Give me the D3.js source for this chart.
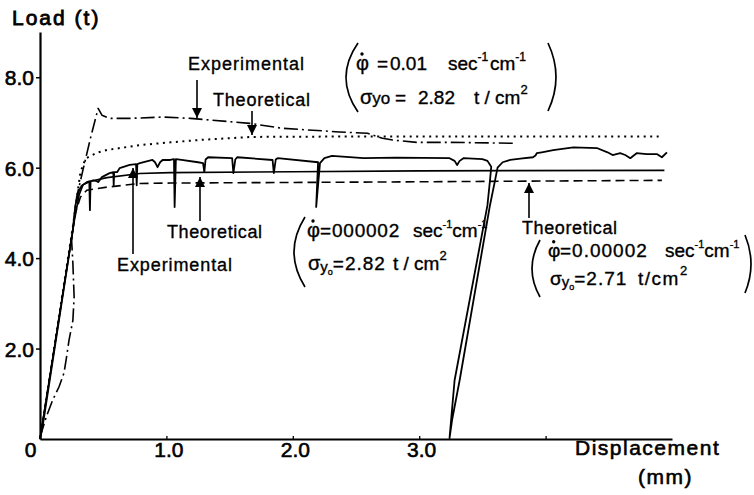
<!DOCTYPE html>
<html><head><meta charset="utf-8">
<script src="https://cdn.jsdelivr.net/npm/d3@7"></script>
<style>
body{margin:0;background:#fff}
svg{display:block}
text{font-family:"Liberation Sans",Arial,sans-serif;fill:#000}
</style>
</head><body>
<svg id="c" width="754" height="495"></svg>
<script>
// ---------- data ----------
const xTicks = [0, 1, 2, 3, 4];
const xTickLabels = ["0", "1.0", "2.0", "3.0", ""];
const yTicks = [2, 4, 6, 8];
const yTickLabels = ["2.0", "4.0", "6.0", "8.0"];

// Experimental, phi = 0.00002 (solid, wavy, with unload/reload loop)
const expSlow = [
  [0,0],[0.01,0.13],[0.02,0.27],[0.26,4.62],[0.28,5.17],[0.31,5.5],[0.33,5.6],[0.37,5.68],
  [0.39,5.70],[0.395,5.06],[0.40,5.70],[0.42,5.72],[0.45,5.70],[0.46,5.68],[0.49,5.79],[0.55,5.88],
  [0.58,5.90],[0.583,5.61],[0.587,5.90],[0.61,5.90],[0.63,5.99],[0.71,6.06],[0.76,6.08],[0.765,5.61],
  [0.77,6.08],[0.79,6.10],[0.89,6.17],[0.91,6.12],[0.93,6.01],[0.95,6.12],[0.97,6.17],[1.03,6.17],
  [1.06,6.19],[1.065,5.13],[1.075,6.19],[1.12,6.17],[1.25,6.12],[1.29,6.10],[1.30,5.90],[1.31,6.18],
  [1.33,6.23],[1.52,6.21],[1.53,5.88],[1.545,6.18],[1.56,6.23],[1.84,6.17],[1.85,5.88],[1.865,6.18],
  [1.88,6.21],[2.20,6.12],[2.185,5.13],[2.215,6.10],[2.25,6.21],[2.31,6.26],[2.56,6.21],[2.82,6.22],
  [3.24,6.21],[3.28,6.15],[3.30,6.06],[3.32,6.15],[3.35,6.21],[3.50,6.19],[3.54,6.15],[3.57,6.02],
  [3.56,5.72],[3.54,5.17],[3.28,1.30],[3.24,0.02],[3.26,0.42],[3.32,1.30],[3.56,5.17],[3.60,5.72],
  [3.62,6.00],[3.66,6.12],[3.72,6.17],[3.80,6.20],[3.90,6.23],[3.92,6.27],[3.93,6.32],[3.97,6.34],
  [4.06,6.39],[4.22,6.45],[4.41,6.43],[4.49,6.34],[4.53,6.28],[4.59,6.32],[4.63,6.28],[4.67,6.21],
  [4.72,6.32],[4.80,6.30],[4.88,6.30],[4.92,6.23],[4.96,6.34]
];
// Experimental, phi = 0.01 (dash-dot)
const expFast = [
  [0,0.04],[0.05,0.49],[0.10,0.86],[0.15,1.15],[0.19,1.46],[0.21,1.81],[0.23,2.19],[0.26,2.62],
  [0.27,3.14],[0.26,3.89],[0.25,4.40],[0.29,5.35],[0.34,5.95],[0.40,6.66],[0.46,7.31],[0.49,7.16],
  [0.55,7.09],[0.71,7.09],[0.97,7.12],[1.19,7.09],[1.66,6.98],[1.92,6.87],[2.37,6.79],[2.59,6.76],
  [2.71,6.65],[2.79,6.61],[2.98,6.56],[3.24,6.56],[3.74,6.54]
];
// Theoretical, phi = 0.01 (dotted)
const theoFast = [
  [0,0],[0.26,4.7],[0.32,5.9],[0.36,6.2],[0.45,6.33],[0.53,6.39],[0.79,6.50],[1.03,6.56],
  [1.30,6.62],[1.68,6.68],[2.50,6.69],[4.92,6.69]
];
// Theoretical, phi = 0.00002, sigma_yo = 2.82 (solid smooth)
const theoSlow282 = [
  [0,0],[0.27,4.8],[0.31,5.4],[0.34,5.62],[0.40,5.70],[0.53,5.78],[0.79,5.87],[1.03,5.89],
  [2.0,5.91],[3.0,5.93],[4.94,5.94]
];
// Theoretical, phi = 0.00002, sigma_yo = 2.71 (dashed)
const theoSlow271 = [
  [0,0],[0.28,5.0],[0.32,5.35],[0.37,5.50],[0.53,5.57],[0.79,5.65],[1.03,5.66],[2.5,5.68],[4.92,5.72]
];

// ---------- chart ----------
const svg = d3.select("#c");
const x = d3.scaleLinear().domain([0, 5]).range([40, 672]);
const y = d3.scaleLinear().domain([0, 9]).range([439, 32]);

const line = d3.line().x(d => x(d[0])).y(d => y(d[1]));

function drawSeries(data, dash, width) {
  svg.append("path").datum(data).attr("d", line)
    .attr("fill", "none").attr("stroke", "#000")
    .attr("stroke-width", width).attr("stroke-linejoin", "round")
    .attr("stroke-dasharray", dash);
}
drawSeries(theoSlow271, "9,5", 1.6);
drawSeries(theoFast, "2,4.5", 2);
drawSeries(theoSlow282, null, 1.6);
drawSeries(expFast, "14,4,2,4", 1.6);
drawSeries(expSlow, null, 1.8);

// axes
const axisFont = "Liberation Sans, Arial, sans-serif";
const yAxis = svg.append("g").attr("transform", `translate(${x(0)},0)`)
  .call(d3.axisLeft(y).tickValues(yTicks).tickSizeInner(4).tickSizeOuter(0).tickPadding(2)
    .tickFormat((d, i) => yTickLabels[i]));
yAxis.select(".domain").attr("stroke-width", 2.2);
yAxis.selectAll(".tick line").attr("stroke-width", 1.5);
yAxis.selectAll("text").attr("font-size", 21).attr("font-family", axisFont)
  .attr("dy", "0.36em").attr("stroke", "#000").attr("stroke-width", 0.6);

const xAxis = svg.append("g").attr("transform", `translate(0,${y(0)})`)
  .call(d3.axisBottom(x).tickValues(xTicks).tickSizeInner(-3).tickSizeOuter(0).tickPadding(3)
    .tickFormat((d, i) => xTickLabels[i]));
xAxis.select(".domain").attr("stroke-width", 2);
xAxis.selectAll(".tick line").attr("stroke-width", 1.3);
xAxis.selectAll("text").attr("font-size", 21).attr("font-family", axisFont)
  .attr("dx", d => d === 0 ? -10 : 2).attr("stroke", "#000").attr("stroke-width", 0.6);

// ---------- text helpers ----------
function t(px, py, str, size, opts = {}) {
  const el = svg.append("text").attr("x", px).attr("y", py).attr("font-size", size).text(str)
    .attr("stroke", "#000").attr("stroke-width", opts.sw != null ? opts.sw : 0.35);
  if (opts.ls != null) el.attr("letter-spacing", opts.ls);
  return el;
}
// rich line: parts = [{s, size, shift (px, negative = up), x (optional absolute), ls}]
function rich(px, py, parts, sw = 0.35) {
  const el = svg.append("text").attr("x", px).attr("y", py)
    .attr("stroke", "#000").attr("stroke-width", sw);
  let cur = 0;
  parts.forEach(p => {
    const ts = el.append("tspan").attr("font-size", p.size).text(p.s);
    const sh = p.shift || 0;
    if (p.x != null) ts.attr("x", p.x);
    if (sh !== cur) { ts.attr("dy", sh - cur); cur = sh; }
    if (p.ls != null) ts.attr("letter-spacing", p.ls);
    if (p.dx != null) ts.attr("dx", p.dx);
  });
  return el;
}
function phi(px, py, size) {
  t(px, py, "φ", size);
  svg.append("circle").attr("cx", px + size * 0.3).attr("cy", py - size * 0.8).attr("r", 1.7).attr("fill", "#000");
}
function bracket(x0, y0, xm, y1) {
  svg.append("path").attr("d", `M${x0},${y0} Q${2 * xm - x0},${(y0 + y1) / 2} ${x0},${y1}`)
    .attr("fill", "none").attr("stroke", "#000").attr("stroke-width", 1.7);
}
const defs = svg.append("defs");
defs.append("marker").attr("id", "ah").attr("viewBox", "0 0 10 10").attr("refX", 10).attr("refY", 5)
  .attr("markerWidth", 10).attr("markerHeight", 10).attr("markerUnits", "userSpaceOnUse")
  .attr("orient", "auto").append("path").attr("d", "M0,0 L10,5 L0,10 Z").attr("fill", "#000");
function arrow(px, yFrom, yTo) {
  svg.append("line").attr("x1", px).attr("x2", px).attr("y1", yFrom).attr("y2", yTo)
    .attr("stroke", "#000").attr("stroke-width", 1.6).attr("marker-end", "url(#ah)");
}

// axis titles
t(12, 25, "Load (t)", 21, { ls: 2, sw: 0.8 });
t(575, 455, "Displacement", 21, { ls: 1.5, sw: 0.6 });
t(638, 484, "(mm)", 21, { ls: 1.5, sw: 0.6 });

// top annotations (phi = 0.01)
t(188, 70, "Experimental", 18, { ls: 1 });
arrow(197, 80, 118);
t(213, 106, "Theoretical", 18, { ls: 0.8 });
arrow(252, 111, 135);
bracket(358, 43, 346, 112);
bracket(548, 43, 556, 111);
phi(356, 70, 20);
rich(377, 70, [
  { s: "=", size: 19 }, { s: "0.01", size: 19, x: 390 },
  { s: "sec", size: 19, x: 448 }, { s: "-1", size: 12, shift: -9 },
  { s: "cm", size: 19, shift: 0, x: 490 }, { s: "-1", size: 12, shift: -9 }
]);
rich(360, 104, [
  { s: "σ", size: 20 }, { s: "yo", size: 17 }, { s: "=", size: 19, x: 395 },
  { s: "2.82", size: 19, x: 418 }, { s: "t / cm", size: 19, x: 474 },
  { s: "2", size: 13, shift: -10 }
]);

// lower-left labels
t(167, 238, "Theoretical", 18, { ls: 0.6 });
arrow(200, 221, 177);
t(117, 271, "Experimental", 18, { ls: 0.9 });
arrow(133, 254, 168);

// middle annotation (phi = 0.00002, sigma 2.82)
bracket(305, 217, 294, 287);
phi(307, 237, 20);
rich(320, 237, [
  { s: "=000002", size: 19, ls: 0.8 }, { s: "sec", size: 19, x: 413 },
  { s: "-1", size: 11, shift: -9 }, { s: "cm", size: 19, shift: 0 },
  { s: "-1", size: 11, shift: -9 }
]);
rich(308, 270, [
  { s: "σ", size: 20 }, { s: "y", size: 15, shift: 2 }, { s: "o", size: 9, shift: 5 },
  { s: "=2.82", size: 19, shift: 0, ls: 1 }, { s: "t / cm", size: 19, x: 393 },
  { s: "2", size: 13, shift: -10 }
]);

// right annotation (theoretical sigma 2.71)
arrow(529, 218, 183);
t(522, 234, "Theoretical", 18, { ls: 0.6 });
bracket(540, 240, 532, 297);
bracket(745, 235, 751, 293);
phi(548, 257, 19);
rich(560, 257, [
  { s: "=0.00002", size: 19, ls: 1 }, { s: "sec", size: 19, x: 665 },
  { s: "-1", size: 11, shift: -9 }, { s: "cm", size: 19, shift: 0 },
  { s: "-1", size: 11, shift: -9 }
]);
rich(550, 285, [
  { s: "σ", size: 19 }, { s: "y", size: 15, shift: 2 }, { s: "o", size: 9, shift: 5 },
  { s: "=2.71", size: 19, shift: 0, ls: 1 }, { s: "t/cm", size: 19, x: 638, ls: 1.5 },
  { s: "2", size: 13, shift: -10 }
]);
</script>
</body></html>
